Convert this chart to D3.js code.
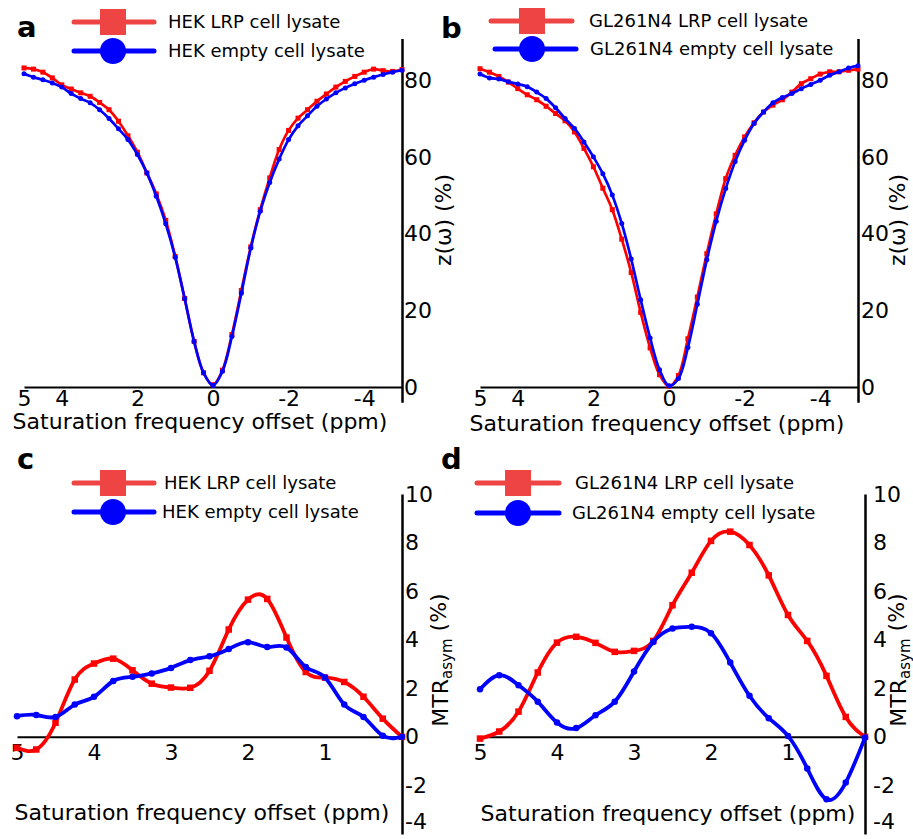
<!DOCTYPE html>
<html><head><meta charset="utf-8">
<script src="https://cdn.jsdelivr.net/npm/d3@7"></script>
<style>
body{margin:0;background:#fff;}
svg{display:block;font-family:"DejaVu Sans",sans-serif;}
</style></head>
<body>
<svg id="chart" width="913" height="839"></svg>
<script>
// ---------- DATA ----------
const zOffsets = [5,4.75,4.5,4.25,4,3.75,3.5,3.25,3,2.75,2.5,2.25,2,1.75,1.5,1.25,1,0.75,0.5,0.25,0,-0.25,-0.5,-0.75,-1,-1.25,-1.5,-1.75,-2,-2.25,-2.5,-2.75,-3,-3.25,-3.5,-3.75,-4,-4.25,-4.5,-4.75,-5];
const hekLrpZ   = [83.3,83.0,82.2,80.7,78.9,77.8,76.8,75.9,74.3,72.4,69.4,65.6,61.3,55.9,50.4,43.5,34.1,23.1,11.9,3.7,0.6,4.4,13.7,25.2,36.6,46.3,54.6,62.0,67.0,70.2,72.4,74.6,76.5,78.3,79.8,81.1,82.2,83.0,82.6,82.4,82.9];
const hekEmptyZ = [81.8,80.9,80.2,79.4,78.3,76.6,75.3,74.2,72.4,70.1,67.4,64.6,60.7,55.9,49.8,42.6,33.9,23.1,11.9,3.7,0.4,4.1,13.2,24.5,36.3,45.9,53.4,59.5,64.6,68.2,70.8,73.3,75.2,76.8,78.1,79.2,80.1,80.9,81.6,82.2,82.7];
const glLrpZ    = [83.1,82.2,81.1,79.6,77.9,76.3,75.0,73.3,71.4,69.5,66.6,62.3,57.5,51.9,46.3,38.6,29.9,19.5,10.2,3.2,0.2,3.0,12.6,23.5,34.8,45.2,54.4,60.5,65.3,69.0,71.8,73.6,75.0,77.0,79.2,80.5,81.7,82.3,82.3,82.7,83.0];
const glEmptyZ  = [81.7,80.7,80.4,79.7,79.1,78.4,77.0,75.3,72.9,70.1,67.5,64.0,60.1,55.7,50.1,42.7,33.4,22.8,12.8,4.5,0.3,2.2,10.3,21.6,33.2,43.3,51.8,58.9,64.4,68.8,71.8,74.2,75.6,76.6,77.9,79.0,80.1,81.4,82.3,83.3,83.9];

const mtrOffsets  = [5,4.75,4.5,4.25,4,3.75,3.5,3.25,3,2.75,2.5,2.25,2,1.75,1.5,1.25,1,0.75,0.5,0.25,0];
const hekLrpMtr   = [-0.45,-0.52,0.58,2.36,3.02,3.22,2.74,2.19,2.03,2.02,2.72,4.42,5.65,5.68,4.09,2.67,2.44,2.26,1.65,0.75,0];
const hekEmptyMtr = [0.85,0.9,0.82,1.33,1.65,2.30,2.47,2.61,2.84,3.16,3.32,3.62,3.90,3.70,3.68,2.88,2.44,1.33,0.82,0.05,0];
const glLrpMtr    = [-0.07,0.22,1.04,2.65,3.88,4.12,3.87,3.50,3.54,3.95,5.42,6.76,8.07,8.45,7.90,6.65,5.02,3.95,2.51,0.82,0];
const glEmptyMtr  = [1.96,2.54,2.13,1.45,0.59,0.36,0.89,1.45,2.69,3.91,4.46,4.53,4.27,3.06,1.69,0.77,0.04,-1.30,-2.57,-1.88,-0.03];

const zXTicks = [5,4,2,0,-2,-4];
const zYTicks = [0,20,40,60,80];
const mXTicks = [5,4,3,2,1];
const mYTicks = [-4,-2,0,2,4,6,8,10];

const legendA = ["HEK LRP cell lysate","HEK empty cell lysate"];
const legendB = ["GL261N4 LRP cell lysate","GL261N4 empty cell lysate"];

// ---------- DRAW ----------
const svg = d3.select("#chart");
const RED = "#ff0000", BLUE = "#0000ff", LRED = "#ee4444";
const fmt = d => String(d);

function panel(opt){
  const g = svg.append("g");
  const x = d3.scaleLinear().domain(opt.xDomain).range(opt.xRange);
  const y = d3.scaleLinear().domain(opt.yDomain).range(opt.yRange);
  const y0 = y(0);
  const xa = g.append("g").attr("transform",`translate(0,${y0})`)
    .call(d3.axisBottom(x).tickValues(opt.xTicks).tickSize(0).tickSizeOuter(0).tickPadding(opt.xPad).tickFormat(fmt));
  xa.select(".domain").attr("stroke","#000").attr("stroke-width",2);
  xa.selectAll("text").attr("font-size",22).attr("font-family","DejaVu Sans").attr("fill","#000");
  const ya = g.append("g").attr("transform",`translate(${opt.xRange[1]},0)`)
    .call(d3.axisRight(y).tickValues(opt.yTicks).tickSize(0).tickSizeOuter(0).tickPadding(opt.yPad).tickFormat(fmt));
  ya.select(".domain").attr("stroke","#000").attr("stroke-width",2.5);
  ya.selectAll("text").attr("font-size",22).attr("font-family","DejaVu Sans").attr("fill","#000")
    .attr("dy", d => d === opt.yDomain[0] ? "-0.25em" : "0.32em");

  const series = [
    {vals:opt.red, color:RED, shape:"sq"},
    {vals:opt.blue, color:BLUE, shape:"ci"}
  ];
  const line = d3.line().x(d=>x(d[0])).y(d=>y(d[1])).curve(opt.curve);
  series.forEach(s=>{
    const pts = opt.xs.map((v,i)=>[v,s.vals[i]]);
    g.append("path").attr("d",line(pts)).attr("fill","none").attr("stroke",s.color)
      .attr("stroke-width",opt.lw).attr("stroke-linejoin","round");
    if(s.shape==="sq"){
      g.selectAll(null).data(pts).enter().append("rect")
        .attr("x",d=>x(d[0])-opt.ms/2).attr("y",d=>y(d[1])-opt.ms/2)
        .attr("width",opt.ms).attr("height",opt.ms).attr("fill",s.color);
    } else {
      g.selectAll(null).data(pts).enter().append("circle")
        .attr("cx",d=>x(d[0])).attr("cy",d=>y(d[1])).attr("r",opt.ms/2).attr("fill",s.color);
    }
  });
  g.append("text").attr("x",opt.xlab[0]).attr("y",opt.xlab[1]).attr("text-anchor","middle")
    .attr("font-size",22).text("Saturation frequency offset (ppm)");
  const yl = g.append("text").attr("transform",`translate(${opt.ylab[0]},${opt.ylab[1]}) rotate(-90)`)
    .attr("text-anchor","middle").attr("dy","0.35em").attr("font-size",22);
  if(opt.mtr){
    yl.append("tspan").text("MTR");
    yl.append("tspan").attr("font-size",15).attr("dy","0.3em").text("asym");
    yl.append("tspan").attr("dy","-0.3em").attr("font-size",22).text("\u00a0(%)");
  } else {
    yl.text("z(\u03c9) (%)");
  }
  g.append("text").attr("x",opt.letter[0]).attr("y",opt.letter[1]).attr("font-size",29)
    .attr("font-weight","bold").text(opt.letter[2]);
  const L = opt.legend;
  [0,1].forEach(i=>{
    const ly = L.ys[i], lx0 = L.x0[i], lx1 = L.x1[i], cx = L.cx;
    const col = i===0 ? LRED : BLUE;
    g.append("line").attr("x1",lx0).attr("x2",lx1).attr("y1",ly).attr("y2",ly)
      .attr("stroke",col).attr("stroke-width",5).attr("stroke-linecap","round");
    if(i===0) g.append("rect").attr("x",cx-13).attr("y",ly-13).attr("width",26).attr("height",26).attr("fill",col);
    else g.append("circle").attr("cx",cx).attr("cy",ly).attr("r",13).attr("fill",col);
    g.append("text").attr("x",L.tx[i]).attr("y",ly).attr("dy","0.35em").attr("font-size",18).text(L.labels[i]);
  });
}

const zYDom = [-4,91], zYRange = [387+4*3.83, 387-91*3.83];
const mYDom = [-4,10], mYRange = [834,494];
const zCurve = d3.curveCatmullRom.alpha(0.5);
const mCurve = d3.curveNatural;

panel({xDomain:[5,-5], xRange:[24,402], yDomain:zYDom, yRange:zYRange, xTicks:zXTicks, yTicks:zYTicks,
  xPad:3, yPad:2, xs:zOffsets, red:hekLrpZ, blue:hekEmptyZ, lw:2.7, ms:5, curve:zCurve,
  xlab:[200,429], ylab:[443,220], letter:[17,37,"a"],
  legend:{ys:[22,51], x0:[74,74], x1:[154,154], cx:113, tx:[168,168], labels:legendA}});

panel({xDomain:[5,-5], xRange:[480,858], yDomain:zYDom, yRange:zYRange, xTicks:zXTicks, yTicks:zYTicks,
  xPad:3, yPad:3, xs:zOffsets, red:glLrpZ, blue:glEmptyZ, lw:2.7, ms:5, curve:zCurve,
  xlab:[657,431], ylab:[897,220], letter:[441,38,"b"],
  legend:{ys:[21,49], x0:[491,495], x1:[572,576], cx:532, tx:[589,590], labels:legendB}});

panel({xDomain:[5,0], xRange:[17,402], yDomain:mYDom, yRange:mYRange, xTicks:mXTicks, yTicks:mYTicks,
  xPad:8, yPad:3, xs:mtrOffsets, red:hekLrpMtr, blue:hekEmptyMtr, lw:3.8, ms:6.5, mtr:true, curve:mCurve,
  xlab:[202,820], ylab:[440,660], letter:[17,469,"c"],
  legend:{ys:[483,512], x0:[74,74], x1:[154,154], cx:113, tx:[164,162], labels:legendA}});

panel({xDomain:[5,0], xRange:[480,865], yDomain:mYDom, yRange:mYRange, xTicks:mXTicks, yTicks:mYTicks,
  xPad:8, yPad:8, xs:mtrOffsets, red:glLrpMtr, blue:glEmptyMtr, lw:3.8, ms:6.5, mtr:true, curve:mCurve,
  xlab:[668,821], ylab:[898,660], letter:[441,469,"d"],
  legend:{ys:[483,513], x0:[477,477], x1:[559,559], cx:518, tx:[575,572], labels:legendB}});
</script>
</body></html>
